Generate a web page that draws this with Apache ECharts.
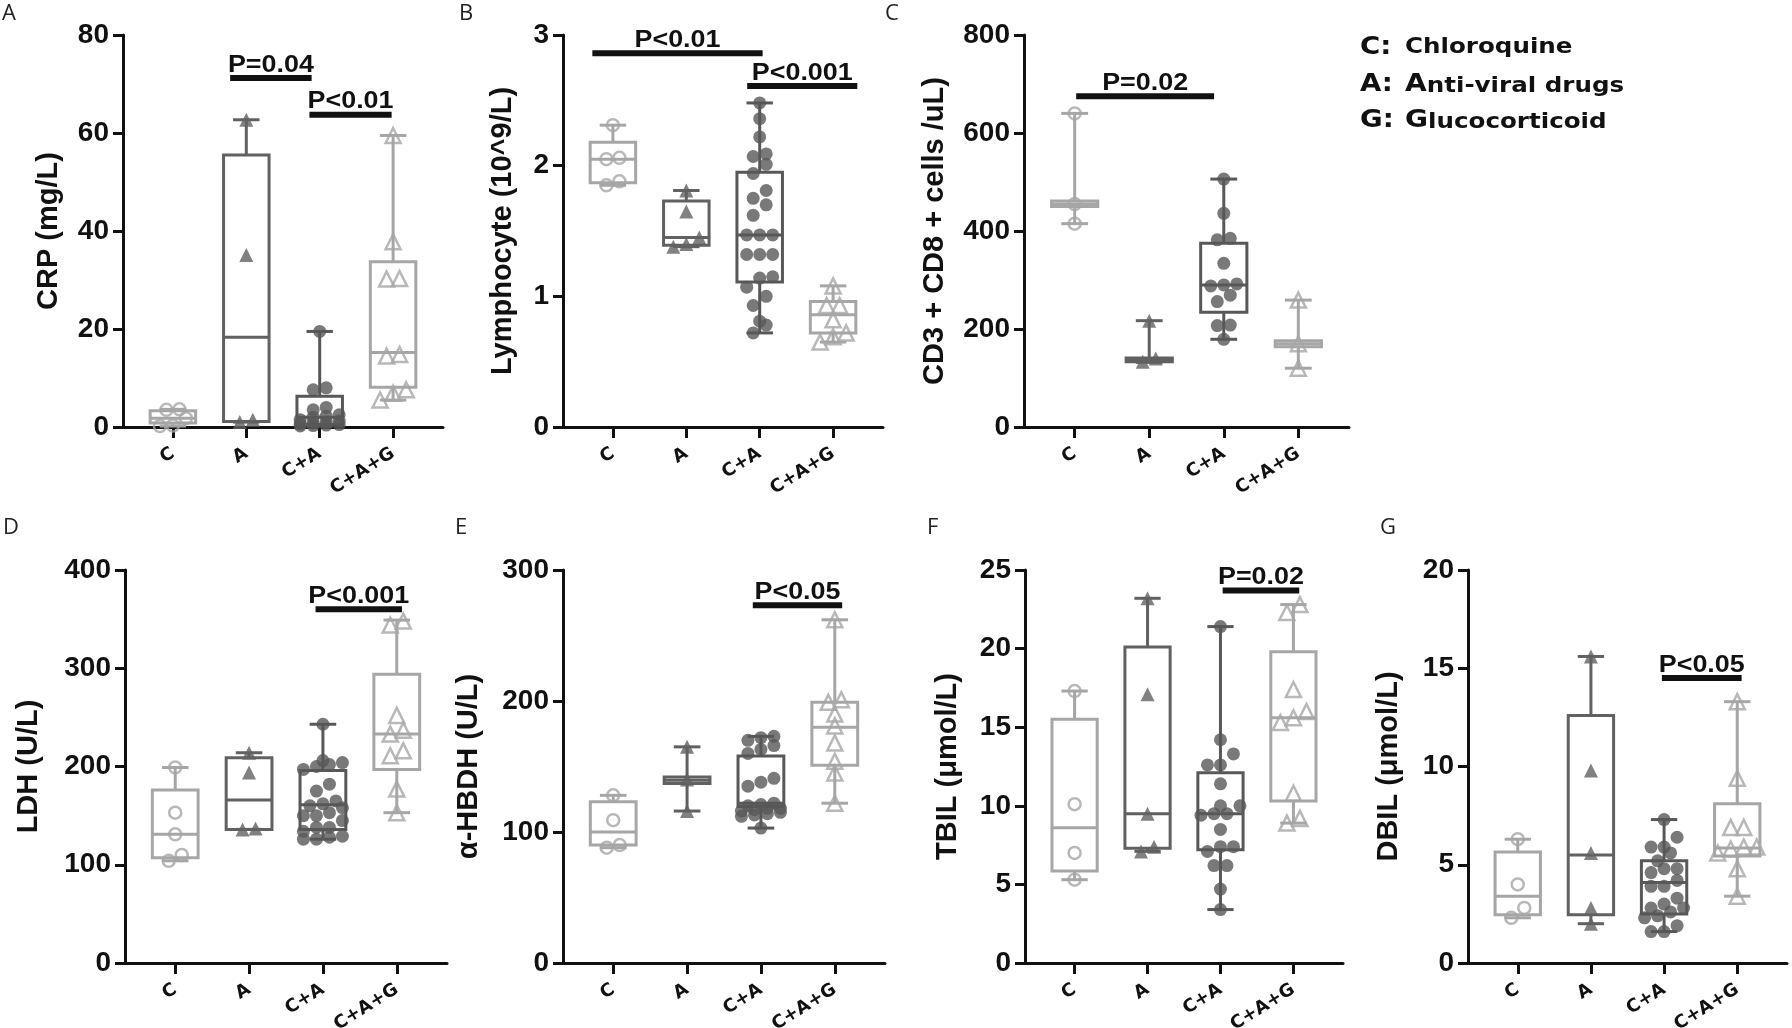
<!DOCTYPE html>
<html>
<head>
<meta charset="utf-8">
<title>Box plots</title>
<script src="https://cdn.jsdelivr.net/npm/echarts@6/dist/echarts.min.js"></script>
<style>
html, body { margin: 0; padding: 0; background: #fff; }
#chart { width: 1792px; height: 1028px; }
</style>
</head>
<body>
<div id="chart"></div>
<script>
// groups on every x axis
var groupNames = ['C', 'A', 'C+A', 'C+A+G'];

// A: CRP (mg/L)
var crpValues = [
    [0.2, 0.3, 1.8, 3.5, 3.6],
    [1.0, 1.5, 35.1, 62.7],
    [0.2, 0.3, 0.4, 0.5, 0.6, 0.8, 1.0, 1.2, 1.5, 2.0, 2.2, 2.5, 3.5, 4.0, 7.6, 8.0, 19.5],
    [5.5, 6.9, 7.6, 14.5, 14.8, 30.2, 30.3, 37.8, 59.5]
];
// min, q1, median, q3, max
var crpBoxes = [
    [0.2, 0.8, 1.8, 3.3, 3.6],
    [1.0, 1.1, 18.3, 55.5, 62.7],
    [0.2, 0.5, 2.0, 6.3, 19.5],
    [5.5, 8.1, 15.2, 33.7, 59.5]
];
// from, to, height, label
var crpSig = [[0.78, 1.89, 71.2, 'P=0.04'], [1.86, 2.98, 63.7, 'P<0.01']];

// B: Lymphocyte
var lymValues = [
    [1.85, 1.88, 2.05, 2.06, 2.31],
    [1.38, 1.40, 1.45, 1.65, 1.81],
    [0.72, 0.78, 0.81, 0.93, 1.00, 1.07, 1.14, 1.15, 1.32, 1.32, 1.32, 1.47, 1.47, 1.47, 1.62, 1.70, 1.75, 1.81, 1.94, 2.01, 2.07, 2.09, 2.22, 2.36, 2.48],
    [0.65, 0.69, 0.72, 0.82, 0.93, 0.93, 1.08]
];
var lymBoxes = [
    [1.85, 1.87, 2.05, 2.18, 2.31],
    [1.38, 1.39, 1.45, 1.73, 1.81],
    [0.72, 1.11, 1.47, 1.95, 2.48],
    [0.65, 0.72, 0.86, 0.96, 1.08]
];
var lymSig = [[-0.28, 2.04, 2.86, 'P<0.01'], [1.83, 3.33, 2.61, 'P<0.001']];

// C: CD3+CD8+ cells
var cd8Values = [
    [415, 455, 640],
    [133, 140, 217],
    [179, 207, 208, 256, 269, 288, 290, 292, 334, 382, 385, 436, 506],
    [120, 170, 259]
];
var cd8Boxes = [
    [415, 450, 455, 461, 640],
    [132, 133, 137, 141, 217],
    [179, 234, 290, 375, 506],
    [120, 164, 170, 176, 259]
];
var cd8Sig = [[0.02, 1.87, 675, 'P=0.02']];

// D: LDH
var ldhValues = [
    [104, 110, 131, 153, 199],
    [136, 137, 194, 214],
    [126, 126, 128, 129, 134, 138, 138, 145, 150, 150, 153, 158, 160, 162, 165, 175, 182, 197, 200, 202, 204, 206, 243],
    [153, 177, 211, 216, 233, 237, 252, 344, 348]
];
var ldhBoxes = [
    [104, 107, 131, 176, 199],
    [136, 136, 166, 209, 214],
    [126, 136, 161, 196, 243],
    [153, 197, 233, 294, 349]
];
var ldhSig = [[1.90, 3.07, 360, 'P<0.001']];

// E: alpha-HBDH
var hbdhValues = [
    [88, 90, 109, 128],
    [116, 140, 165],
    [103, 112, 113, 114, 115, 116, 117, 118, 118, 120, 121, 122, 135, 138, 141, 160, 163, 166, 170, 172, 173],
    [122, 145, 154, 168, 181, 190, 199, 201, 262]
];
var hbdhBoxes = [
    [88, 90, 100, 123, 128],
    [116, 137, 139.5, 142, 165],
    [103, 119.5, 122, 158, 173],
    [122, 151, 180, 199, 262]
];
var hbdhSig = [[1.89, 3.10, 273, 'P<0.05']];

// F: TBIL
var tbilValues = [
    [5.3, 7.0, 10.1, 17.3],
    [7.1, 7.4, 9.5, 17.1, 23.2],
    [3.4, 4.7, 6.2, 6.2, 7.1, 7.4, 7.4, 8.5, 9.4, 9.5, 9.5, 10.0, 10.0, 11.4, 12.6, 12.6, 13.3, 14.2, 21.4],
    [8.9, 9.2, 10.8, 15.3, 15.6, 16.0, 17.4, 22.3, 22.8]
];
var tbilBoxes = [
    [5.3, 5.85, 8.6, 15.5, 17.3],
    [7.1, 7.3, 9.5, 20.1, 23.2],
    [3.4, 7.2, 9.5, 12.1, 21.4],
    [8.9, 10.3, 15.6, 19.8, 22.8]
];
var tbilSig = [[2.03, 3.08, 23.7, 'P=0.02']];

// G: DBIL
var dbilValues = [
    [2.3, 2.8, 4.0, 6.3],
    [2.0, 2.8, 5.6, 9.8, 15.6],
    [1.6, 1.6, 1.9, 2.3, 2.4, 2.6, 2.8, 2.8, 3.0, 3.3, 3.9, 3.9, 4.2, 4.6, 4.8, 4.8, 5.2, 5.6, 5.9, 5.9, 6.4, 7.3],
    [3.4, 4.8, 5.6, 5.8, 5.9, 5.9, 6.9, 6.9, 9.4, 13.3]
];
var dbilBoxes = [
    [2.3, 2.45, 3.4, 5.65, 6.3],
    [2.0, 2.45, 5.5, 12.6, 15.6],
    [1.6, 2.5, 4.1, 5.2, 7.3],
    [3.4, 5.45, 5.85, 8.1, 13.3]
];
var dbilSig = [[1.97, 3.06, 14.5, 'P<0.05']];

// layout of the seven panels
var panels = [
    {values: crpValues, boxes: crpBoxes, sig: crpSig, name: 'CRP (mg/L)', max: 80, step: 20, left: 123, top: 35, width: 320, height: 392, gap: 60},
    {values: lymValues, boxes: lymBoxes, sig: lymSig, name: 'Lymphocyte (10^9/L)', max: 3, step: 1, left: 563, top: 35, width: 320, height: 392, gap: 46},
    {values: cd8Values, boxes: cd8Boxes, sig: cd8Sig, name: 'CD3 + CD8 + cells /uL)', max: 800, step: 200, left: 1024, top: 35, width: 325, height: 392, gap: 75},
    {values: ldhValues, boxes: ldhBoxes, sig: ldhSig, name: 'LDH (U/L)', max: 400, step: 100, left: 125, top: 570, width: 322, height: 393, gap: 82},
    {values: hbdhValues, boxes: hbdhBoxes, sig: hbdhSig, name: 'α-HBDH (U/L)', max: 300, step: 100, left: 563, top: 570, width: 322, height: 393, gap: 80},
    {values: tbilValues, boxes: tbilBoxes, sig: tbilSig, name: 'TBIL (μmol/L)', max: 25, step: 5, left: 1025, top: 570, width: 318, height: 393, gap: 63},
    {values: dbilValues, boxes: dbilBoxes, sig: dbilSig, name: 'DBIL (μmol/L)', max: 20, step: 5, left: 1468, top: 570, width: 319, height: 393, gap: 65}
];

var xMin = -0.68, xMax = 3.68;
var groupColors = ['#a6a6a6', '#616161', '#585858', '#a6a6a6'];
var groupSymbols = ['circle', 'triangle', 'circle', 'triangle'];
var groupHollow = [true, false, false, true];
var groupSizes = [12, 14, 13, 15];
var ink = '#111111';
var tickFont = 'Liberation Sans';

// spread points of one group side by side (prism-like rows)
function swarm(vals, gi, pxPerY, pxPerX) {
    var d = 13;
    var sorted = vals.slice().sort(function (a, b) { return a - b; });
    var rows = [];
    var out = [];
    sorted.forEach(function (v) {
        var row = rows[rows.length - 1];
        if (row && (v - row[0]) * pxPerY < d * 0.85 && row.length < 4) {
            row.push(v);
        } else {
            rows.push([v]);
        }
    });
    rows.forEach(function (row) {
        row.forEach(function (v, i) {
            var off = (i - (row.length - 1) / 2) * d;
            out.push([gi + off / pxPerX, v]);
        });
    });
    return out;
}

function renderBox(params, api) {
    var x = api.value(0);
    var c = groupColors[x];
    var hw = api.size([0.31, 0])[0];
    var cw = api.size([0.18, 0])[0];
    var pMin = api.coord([x, api.value(1)]);
    var pQ1 = api.coord([x, api.value(2)]);
    var pMed = api.coord([x, api.value(3)]);
    var pQ3 = api.coord([x, api.value(4)]);
    var pMax = api.coord([x, api.value(5)]);
    var st = {stroke: c, lineWidth: 3, fill: null};
    var cx = pMed[0];
    return {
        type: 'group',
        children: [
            {type: 'line', shape: {x1: cx, y1: pMin[1], x2: cx, y2: pQ1[1]}, style: st},
            {type: 'line', shape: {x1: cx, y1: pQ3[1], x2: cx, y2: pMax[1]}, style: st},
            {type: 'line', shape: {x1: cx - cw, y1: pMin[1], x2: cx + cw, y2: pMin[1]}, style: st},
            {type: 'line', shape: {x1: cx - cw, y1: pMax[1], x2: cx + cw, y2: pMax[1]}, style: st},
            {type: 'rect', shape: {x: cx - hw, y: pQ3[1], width: hw * 2, height: pQ1[1] - pQ3[1]}, style: {stroke: c, lineWidth: 3, fill: 'rgba(0,0,0,0)'}},
            {type: 'line', shape: {x1: cx - hw, y1: pMed[1], x2: cx + hw, y2: pMed[1]}, style: st}
        ]
    };
}

function makeSigRender(sig) {
    return function (params, api) {
        var p1 = api.coord([api.value(0), api.value(2)]);
        var p2 = api.coord([api.value(1), api.value(2)]);
        return {
            type: 'group',
            children: [
                {type: 'line', shape: {x1: p1[0], y1: p1[1], x2: p2[0], y2: p2[1]}, style: {stroke: ink, lineWidth: 6}},
                {type: 'text', x: (p1[0] + p2[0]) / 2, y: p1[1] - 1, scaleX: 1.12, style: {
                    text: sig[params.dataIndex][3], fill: ink, align: 'center', verticalAlign: 'bottom',
                    fontSize: 24, fontWeight: 'bold', fontFamily: tickFont
                }}
            ]
        };
    };
}

var grids = [], xAxes = [], yAxes = [], series = [];

panels.forEach(function (p, i) {
    // fixed grid box, labels may run outside it
    grids.push({left: p.left, top: p.top, width: p.width, height: p.height, outerBoundsMode: 'none', containLabel: false});
    xAxes.push({
        type: 'value', gridIndex: i, min: xMin, max: xMax,
        splitLine: {show: false},
        axisLine: {show: true, onZero: false, lineStyle: {color: ink, width: 3}},
        axisTick: {show: true, customValues: [0, 1, 2, 3], length: 11, lineStyle: {color: ink, width: 3}},
        axisLabel: {
            customValues: [0, 1, 2, 3], rotate: 32, margin: 25,
            color: ink, fontSize: 18, fontWeight: 'bold', fontFamily: 'DejaVu Sans',
            formatter: function (v) { return groupNames[Math.round(v)]; }
        }
    });
    yAxes.push({
        type: 'value', gridIndex: i, min: 0, max: p.max, interval: p.step,
        splitLine: {show: false},
        axisLine: {show: true, onZero: false, lineStyle: {color: ink, width: 3}},
        axisTick: {show: true, length: 10, lineStyle: {color: ink, width: 3}},
        axisLabel: {color: ink, fontSize: 28, fontWeight: 'bold', fontFamily: tickFont, margin: 14},
        name: p.name, nameLocation: 'middle', nameGap: p.gap,
        nameTextStyle: {color: ink, fontSize: 29, fontWeight: 'bold', fontFamily: tickFont}
    });

    var boxData = p.boxes.map(function (b, gi) { return [gi].concat(b); });
    series.push({
        type: 'custom', xAxisIndex: i, yAxisIndex: i, z: 2,
        renderItem: renderBox, data: boxData,
        encode: {x: 0, y: [1, 2, 3, 4, 5]}
    });

    var pxPerY = p.height / p.max;
    var pxPerX = p.width / (xMax - xMin);
    p.values.forEach(function (vals, gi) {
        var hollow = groupHollow[gi];
        series.push({
            type: 'scatter', xAxisIndex: i, yAxisIndex: i, z: 3,
            symbol: groupSymbols[gi], symbolSize: groupSizes[gi],
            itemStyle: hollow
                ? {color: 'rgba(255,255,255,0)', borderColor: groupColors[gi], borderWidth: 2.5}
                : {color: groupColors[gi]},
            data: swarm(vals, gi, pxPerY, pxPerX)
        });
    });

    series.push({
        type: 'custom', xAxisIndex: i, yAxisIndex: i, z: 4,
        renderItem: makeSigRender(p.sig),
        data: p.sig.map(function (s) { return [s[0], s[1], s[2]]; }),
        encode: {x: [0, 1], y: 2}
    });
});

// panel letters
var letters = [['A', 2, 3], ['B', 459, 3], ['C', 885, 3], ['D', 3, 517], ['E', 455, 517], ['F', 927, 517], ['G', 1380, 517]];
var graphics = letters.map(function (l) {
    return {type: 'text', x: l[1], y: l[2], style: {text: l[0], fill: '#222', fontSize: 22, fontFamily: 'Open Sans'}};
});

// key in the top right corner
var keyRows = [
    ['C:', '{s|Chloroquine}', 48],
    ['A:', '{b|A}{s|nti-viral drugs}', 85],
    ['G:', '{b|G}{s|lucocorticoid}', 121]
];
keyRows.forEach(function (r) {
    graphics.push({type: 'text', x: 1360, y: r[2], scaleX: 1.15, style: {
        text: r[0], fill: ink, fontSize: 24, fontWeight: 'bold', fontFamily: 'DejaVu Sans', verticalAlign: 'middle'
    }});
    graphics.push({type: 'text', x: 1405, y: r[2], scaleX: 1.17, style: {
        text: r[1], verticalAlign: 'middle',
        rich: {
            b: {fill: ink, fontSize: 24, fontWeight: 'bold', fontFamily: 'DejaVu Sans', verticalAlign: 'bottom'},
            s: {fill: ink, fontSize: 21, fontWeight: 'bold', fontFamily: 'DejaVu Sans', verticalAlign: 'bottom'}
        }
    }});
});

var myChart = echarts.init(document.getElementById('chart'));
myChart.setOption({
    animation: false,
    backgroundColor: '#ffffff',
    grid: grids,
    xAxis: xAxes,
    yAxis: yAxes,
    series: series,
    graphic: graphics
});
</script>
</body>
</html>
